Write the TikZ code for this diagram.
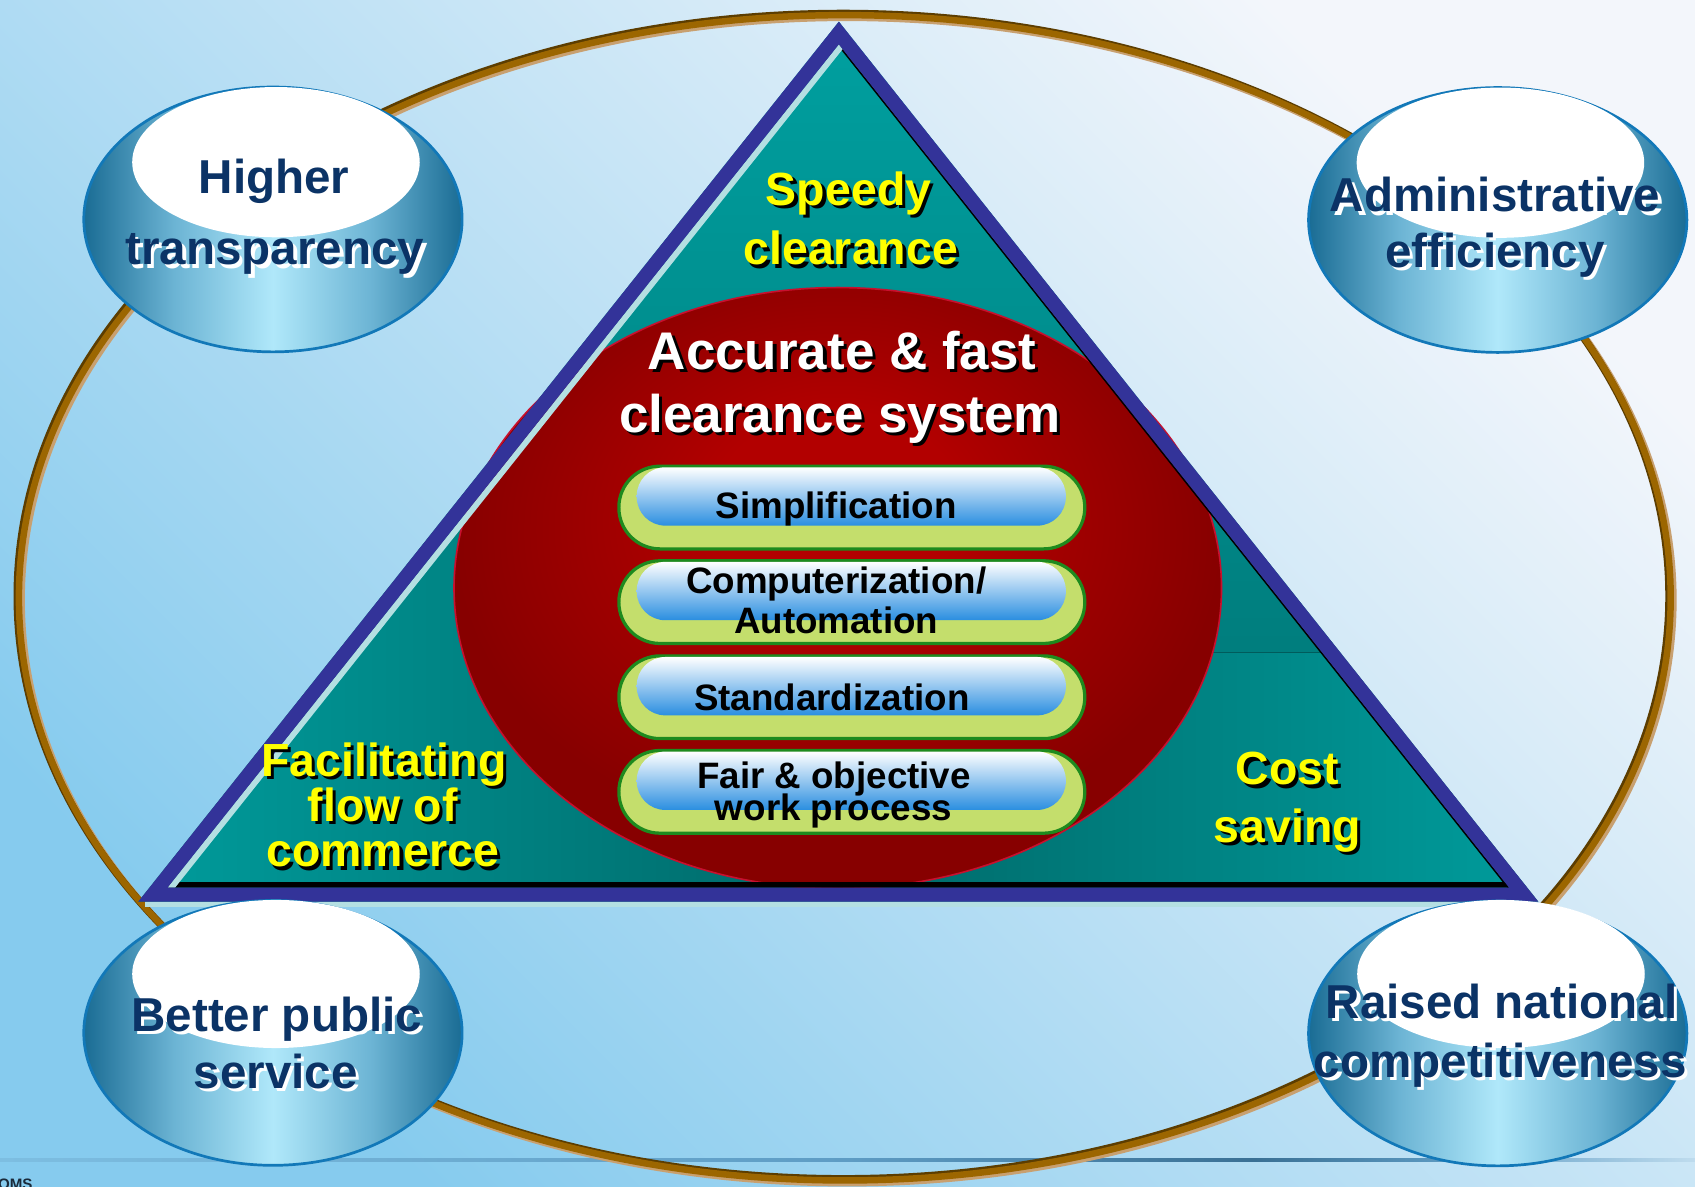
\documentclass[tikz,border=0pt]{standalone}
\usepackage{fontspec}
\setmainfont{Liberation Sans}
\usetikzlibrary{calc}
\definecolor{bgT}{HTML}{F3F6FB}
\definecolor{bgM}{HTML}{C6E3F5}
\definecolor{bgB}{HTML}{86CBEE}
\definecolor{lnA}{HTML}{7DBEE1}
\definecolor{lnB}{HTML}{5E9CC4}
\definecolor{lnC}{HTML}{3A7094}
\definecolor{lnE}{HTML}{BFDCEE}
\definecolor{brMain}{HTML}{9C6600}
\definecolor{brDark}{HTML}{5C3D00}
\definecolor{brTan}{HTML}{C8A070}
\definecolor{navyB}{HTML}{333399}
\definecolor{tealT}{HTML}{00A0A0}
\definecolor{tealM}{HTML}{007777}
\definecolor{tealB}{HTML}{007070}
\definecolor{tealL}{HTML}{009A9A}
\definecolor{tealD}{HTML}{006868}
\definecolor{tealLine}{HTML}{005C5C}
\definecolor{cyanS}{HTML}{B4DFE2}
\definecolor{redC}{HTML}{B20000}
\definecolor{redE}{HTML}{870000}
\definecolor{redLine}{HTML}{C8102E}
\definecolor{pillY}{HTML}{C4DE6C}
\definecolor{pillG}{HTML}{1E8A1E}
\definecolor{pillM}{HTML}{A8C8EE}
\definecolor{pillB}{HTML}{2A8EE0}
\definecolor{bubA}{HTML}{1A6C94}
\definecolor{bubB}{HTML}{6CB4D4}
\definecolor{bubC}{HTML}{B0E8FA}
\definecolor{bubE}{HTML}{1278B8}
\definecolor{navyT}{HTML}{0B3366}
\definecolor{yelT}{HTML}{FFFF00}
\definecolor{omsT}{HTML}{1A2A3A}
\pgfdeclarehorizontalshading{bubble}{100bp}{color(0bp)=(bubA); color(25bp)=(bubA); color(37bp)=(bubB); color(50bp)=(bubC); color(63bp)=(bubB); color(75bp)=(bubA); color(100bp)=(bubA)}
\pgfdeclareradialshading{redball}{\pgfpoint{0bp}{8bp}}{color(0bp)=(redC); color(8bp)=(redC); color(25bp)=(redE); color(50bp)=(redE)}
\pgfdeclarehorizontalshading{lineshade}{100bp}{color(0bp)=(lnA); color(25bp)=(lnA); color(50bp)=(lnB); color(62bp)=(lnC); color(68bp)=(lnB); color(75bp)=(lnE); color(100bp)=(lnE)}
\newcommand{\shadowtext}[6]{%
  \node[#4, text=#5, anchor=base, xshift=3pt, yshift=-3pt] (#1s) at (#2,#3) {#6};
  \node[#4, anchor=base] (#1) at (#2,#3) {#6};}
\begin{document}
\begin{tikzpicture}[x=1pt,y=-1pt,
  bubtext/.style={font=\fontsize{44}{44}\selectfont\bfseries, text=navyT, inner sep=0pt},
  yeltext/.style={font=\fontsize{43}{43}\selectfont\bfseries, text=yelT, inner sep=0pt},
  acctext/.style={font=\fontsize{49}{49}\selectfont\bfseries, text=white, inner sep=0pt},
  pilltext/.style={font=\fontsize{34}{34}\selectfont\bfseries, text=black, inner sep=0pt},
  pillout/.style={draw=pillG, line width=3pt, fill=pillY, rounded corners=38pt, minimum width=431pt, minimum height=76.5pt, inner sep=0pt},
  pillin/.style={rounded corners=26.5pt, minimum width=397pt, minimum height=54pt, inner sep=0pt, top color=white, middle color=pillM, bottom color=pillB},
  bubline/.style={draw=bubE, line width=2.5pt}]
\useasboundingbox (0,0) rectangle (1568,1098);
\clip (0,0) rectangle (1568,1098);
% background
\shade[top color=bgT, middle color=bgM, bottom color=bgB, shading angle=-45] (0,0) rectangle (1568,1098);
\shade[shading=lineshade] (0,1071.8) rectangle (1568,1074.2);
\node[font=\fontsize{14}{14}\selectfont\bfseries, text=omsT, anchor=base west, inner sep=0pt] (oms) at (-2,1100) {OMS};
% big brown ellipse
\draw[brTan, line width=7pt] (783.5,555) ellipse [x radius=764pt, y radius=539pt];
\draw[brDark, line width=7pt] (780,551.5) ellipse [x radius=764pt, y radius=539pt];
\draw[brMain, line width=6pt] (781.5,553) ellipse [x radius=764pt, y radius=539pt];
% triangle body
\coordinate (tA) at (776,20);
\coordinate (tL) at (128,834);
\coordinate (tR) at (1423,834);
\coordinate (iA) at (776,41);
\coordinate (iL) at (155,821);
\coordinate (iR) at (1396,821);
\shade[top color=tealT, middle color=tealM, bottom color=tealB] (tA) -- (tL) -- (tR) -- cycle;
\begin{scope}
  \clip (iA) -- (iL) -- (iR) -- cycle;
  \shade[left color=tealL, middle color=tealD, right color=tealD] (150,440) rectangle (775,825);
  \shade[left color=tealD, middle color=tealD, right color=tealL] (775,604) rectangle (1400,825);
  \draw[tealLine, line width=1pt] (900,604) -- (1400,604);
\end{scope}
% red circle
\shade[shading=redball] (775,544) ellipse [x radius=355pt, y radius=278pt];
\draw[redLine, line width=1.5pt] (775,544) ellipse [x radius=355pt, y radius=278pt];
% bevel lines
\begin{scope}
  \clip (iA) -- (iL) -- (iR) -- cycle;
  \draw[black, line width=10pt] (iL) -- (iR);
  \draw[black, line width=3pt] (iA) -- (iR);
  \draw[cyanS, line width=11pt] (iA) -- (iL);
\end{scope}
\draw[cyanS, line width=5pt] (134,836.5) -- (1412,836.5);
\fill[navyB, even odd rule] (tA) -- (tL) -- (tR) -- cycle (iA) -- (iL) -- (iR) -- cycle;
% texts in triangle
\shadowtext{sp1}{785}{190}{yeltext}{black}{Speedy}
\shadowtext{sp2}{787}{245}{yeltext}{black}{clearance}
\shadowtext{fa1}{355}{718}{yeltext}{black}{Facilitating}
\shadowtext{fa2}{354}{760}{yeltext}{black}{flow of}
\shadowtext{fa3}{354}{802}{yeltext}{black}{commerce}
\shadowtext{cs1}{1191}{726}{yeltext}{black}{Cost}
\shadowtext{cs2}{1191}{779}{yeltext}{black}{saving}
\shadowtext{ac1}{779}{342}{acctext}{black}{Accurate \& fast}
\shadowtext{ac2}{777}{400}{acctext}{black}{clearance system}
% pills
\node[pillout] (p1) at (788,469.5) {};
\node[pillin] (q1) at (787.5,459.25) {};
\node[pilltext, anchor=base] (t1) at (773.5,480) {Simplification};
\node[pillout] (p2) at (788,557) {};
\node[pillin] (q2) at (787.5,546.75) {};
\node[pilltext, anchor=base] (t2a) at (773.5,548.6) {Computerization/};
\node[pilltext, anchor=base] (t2b) at (773.5,585.6) {Automation};
\node[pillout] (p3) at (788,645) {};
\node[pillin] (q3) at (787.5,634.75) {};
\node[pilltext, anchor=base] (t3) at (769.6,657.7) {Standardization};
\node[pillout] (p4) at (788,732.5) {};
\node[pillin] (q4) at (787.5,722.25) {};
\node[pilltext, anchor=base] (t4a) at (771.5,729) {Fair \& objective};
\node[pilltext, anchor=base] (t4b) at (771,758.6) {work process};
% bubbles
\shade[shading=bubble] (252.5,203) ellipse [x radius=175pt, y radius=122.5pt];
\draw[bubline] (252.5,203) ellipse [x radius=175pt, y radius=122.5pt];
\fill[white] (255.3,150) ellipse [x radius=133pt, y radius=69.5pt];
\shade[shading=bubble] (1385.5,203.5) ellipse [x radius=175pt, y radius=122.5pt];
\draw[bubline] (1385.5,203.5) ellipse [x radius=175pt, y radius=122.5pt];
\fill[white] (1388,150.5) ellipse [x radius=133pt, y radius=69.5pt];
\shade[shading=bubble] (252.5,955.5) ellipse [x radius=175pt, y radius=122.5pt];
\draw[bubline] (252.5,955.5) ellipse [x radius=175pt, y radius=122.5pt];
\fill[white] (255.3,901) ellipse [x radius=133pt, y radius=68.5pt];
\shade[shading=bubble] (1385.5,956) ellipse [x radius=175pt, y radius=122.5pt];
\draw[bubline] (1385.5,956) ellipse [x radius=175pt, y radius=122.5pt];
\fill[white] (1388.5,901) ellipse [x radius=133pt, y radius=68.5pt];
\shadowtext{b1a}{253.6}{179}{bubtext}{white}{Higher}
\shadowtext{b1b}{254.4}{245}{bubtext}{white}{transparency}
\shadowtext{b2a}{1383}{196}{bubtext}{white}{Administrative}
\shadowtext{b2b}{1383}{247}{bubtext}{white}{efficiency}
\shadowtext{b3a}{256}{954}{bubtext}{white}{Better public}
\shadowtext{b3b}{255}{1007}{bubtext}{white}{service}
\shadowtext{b4a}{1389}{942}{bubtext}{white}{Raised national}
\shadowtext{b4b}{1387.8}{996.5}{bubtext}{white}{competitiveness}
\end{tikzpicture}
\end{document}
